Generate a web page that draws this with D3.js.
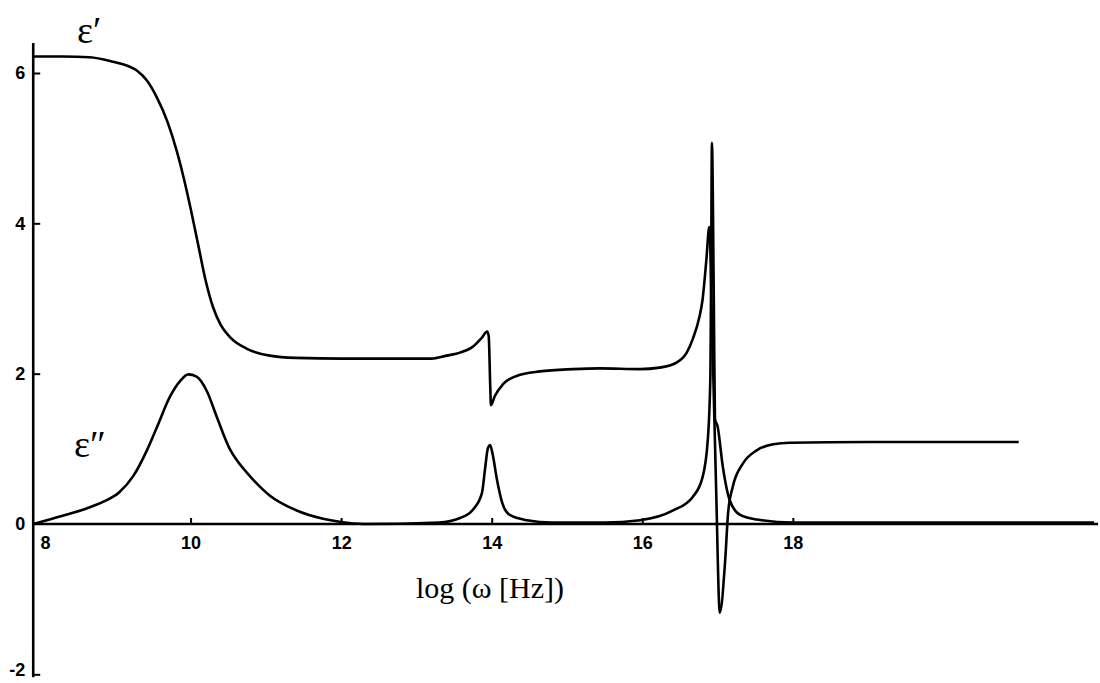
<!DOCTYPE html>
<html>
<head>
<meta charset="utf-8">
<script src="https://cdn.jsdelivr.net/npm/d3@7"></script>
<style>
  body { margin: 0; background: #fff; }
  .tick text { font-family: "Liberation Sans", Arial, sans-serif; font-weight: bold; font-size: 18px; fill: #000; }
  .tick line { stroke: #000; stroke-width: 2; }
</style>
</head>
<body>
<div id="chart"></div>
<script>
var width = 1100, height = 683

// tick values
var xTicks = [8, 10, 12, 14, 16, 18]
var yTicks = [-2, 0, 2, 4, 6]

// log(omega) positions and values
var epsRealX = [7.91, 8.3, 8.66, 8.97, 9.15, 9.29, 9.42, 9.55, 9.69, 9.82, 9.91, 10.0, 10.1, 10.2, 10.3, 10.4, 10.52, 10.75, 11.05, 11.4, 12.0, 13.2,
  13.4, 13.58, 13.75, 13.87, 13.94, 13.96, 13.98, 13.99, 14.04, 14.15, 14.33, 14.64, 15.08, 15.44, 15.97, 16.23, 16.46, 16.59, 16.67,
  16.76, 16.80, 16.85, 16.89, 16.93, 16.98, 17.03, 17.10, 17.14, 17.20, 17.34, 17.52, 17.74, 17.96, 19.0, 21.0]
var epsRealY = [6.22, 6.22, 6.21, 6.15, 6.10, 6.03, 5.90, 5.68, 5.36, 4.95, 4.60, 4.20, 3.72, 3.24, 2.88, 2.65, 2.49, 2.33, 2.24, 2.21, 2.20, 2.20,
  2.24, 2.28, 2.36, 2.48, 2.56, 2.50, 1.85, 1.58, 1.70, 1.86, 1.97, 2.03, 2.06, 2.07, 2.06, 2.08, 2.15, 2.28, 2.46,
  2.76, 2.98, 3.5, 3.95, 2.5, 0.5, -1.18, -0.5, 0.15, 0.49, 0.81, 0.98, 1.06, 1.08, 1.09, 1.09]

var epsImagX = [7.91, 8.3, 8.6, 8.85, 9.05, 9.24, 9.42, 9.55, 9.73, 9.86, 9.97, 10.08, 10.22, 10.35, 10.52, 10.62, 10.75, 11.05, 11.41, 11.76, 11.98, 12.3,
  13.3, 13.58, 13.75, 13.87, 13.91, 13.95, 13.98, 14.01, 14.07, 14.14, 14.24, 14.47, 14.8, 15.5, 15.97, 16.41, 16.67, 16.80, 16.87,
  16.905, 16.915, 16.925, 16.95, 16.965, 17.0, 17.07, 17.16, 17.30, 17.52, 18.0, 22.0]
var epsImagY = [0, 0.11, 0.2, 0.3, 0.42, 0.64, 0.98, 1.28, 1.70, 1.90, 1.99, 1.96, 1.76, 1.42, 1.00, 0.84, 0.68, 0.38, 0.18, 0.07, 0.03, 0.0,
  0.02, 0.08, 0.19, 0.41, 0.72, 1.01, 1.05, 0.94, 0.59, 0.28, 0.12, 0.05, 0.02, 0.02, 0.05, 0.18, 0.36, 0.62, 1.12,
  2.0, 3.5, 5.07, 3.0, 1.4, 1.3, 0.76, 0.32, 0.12, 0.06, 0.02, 0.02]

var svg = d3.select("#chart")
  .append("svg")
  .attr("width", width)
  .attr("height", height)

var x = d3.scaleLinear().domain([8, 22]).range([40, 1094])
var y = d3.scaleLinear().domain([0, 6]).range([524, 73])

// axis lines
svg.append("line")
  .attr("x1", x(7.91)).attr("x2", x(7.91))
  .attr("y1", y(6.4)).attr("y2", y(-2) + 3)
  .attr("stroke", "#000").attr("stroke-width", 2.6)

svg.append("line")
  .attr("x1", x(7.91)).attr("x2", 1098)
  .attr("y1", y(0)).attr("y2", y(0))
  .attr("stroke", "#000").attr("stroke-width", 2.4)

var xAxis = svg.append("g")
  .attr("transform", "translate(0," + y(0) + ")")
  .call(d3.axisBottom(x).tickValues(xTicks).tickSizeInner(-6).tickSizeOuter(0).tickPadding(12).tickFormat(d3.format("d")))
xAxis.select(".domain").remove()
xAxis.selectAll(".tick").filter(function(d) { return d == 8 }).select("line").remove()
xAxis.selectAll(".tick").filter(function(d) { return d == 8 }).select("text").attr("dx", 5)

var yAxis = svg.append("g")
  .attr("transform", "translate(" + x(7.91) + ",0)")
  .call(d3.axisLeft(y).tickValues(yTicks).tickSizeInner(-7).tickSizeOuter(0).tickPadding(8).tickFormat(function(d) { return d < 0 ? "-" + Math.abs(d) : d }))
yAxis.select(".domain").remove()
yAxis.selectAll(".tick").filter(function(d) { return d == 0 }).select("line").remove()
yAxis.selectAll(".tick").filter(function(d) { return d == -2 }).select("text").attr("dy", "0.05em")

var line = d3.line()
  .x(function(d) { return x(d[0]) })
  .y(function(d) { return y(d[1]) })
  .curve(d3.curveMonotoneX)

svg.append("path")
  .datum(d3.zip(epsRealX, epsRealY))
  .attr("d", line)
  .attr("fill", "none")
  .attr("stroke", "#000")
  .attr("stroke-width", 2.6)
  .attr("stroke-linejoin", "round")

svg.append("path")
  .datum(d3.zip(epsImagX, epsImagY))
  .attr("d", line)
  .attr("fill", "none")
  .attr("stroke", "#000")
  .attr("stroke-width", 2.6)
  .attr("stroke-linejoin", "round")

// labels
svg.append("text")
  .attr("x", 77).attr("y", 43)
  .style("font-family", "Liberation Serif, serif")
  .style("font-size", "38px")
  .text("ε′")

svg.append("text")
  .attr("x", 74).attr("y", 457)
  .style("font-family", "Liberation Serif, serif")
  .style("font-size", "38px")
  .text("ε″")

svg.append("text")
  .attr("x", 490).attr("y", 598)
  .attr("text-anchor", "middle")
  .style("font-family", "Liberation Serif, serif")
  .style("font-size", "30px")
  .text("log (ω [Hz])")
</script>
</body>
</html>
